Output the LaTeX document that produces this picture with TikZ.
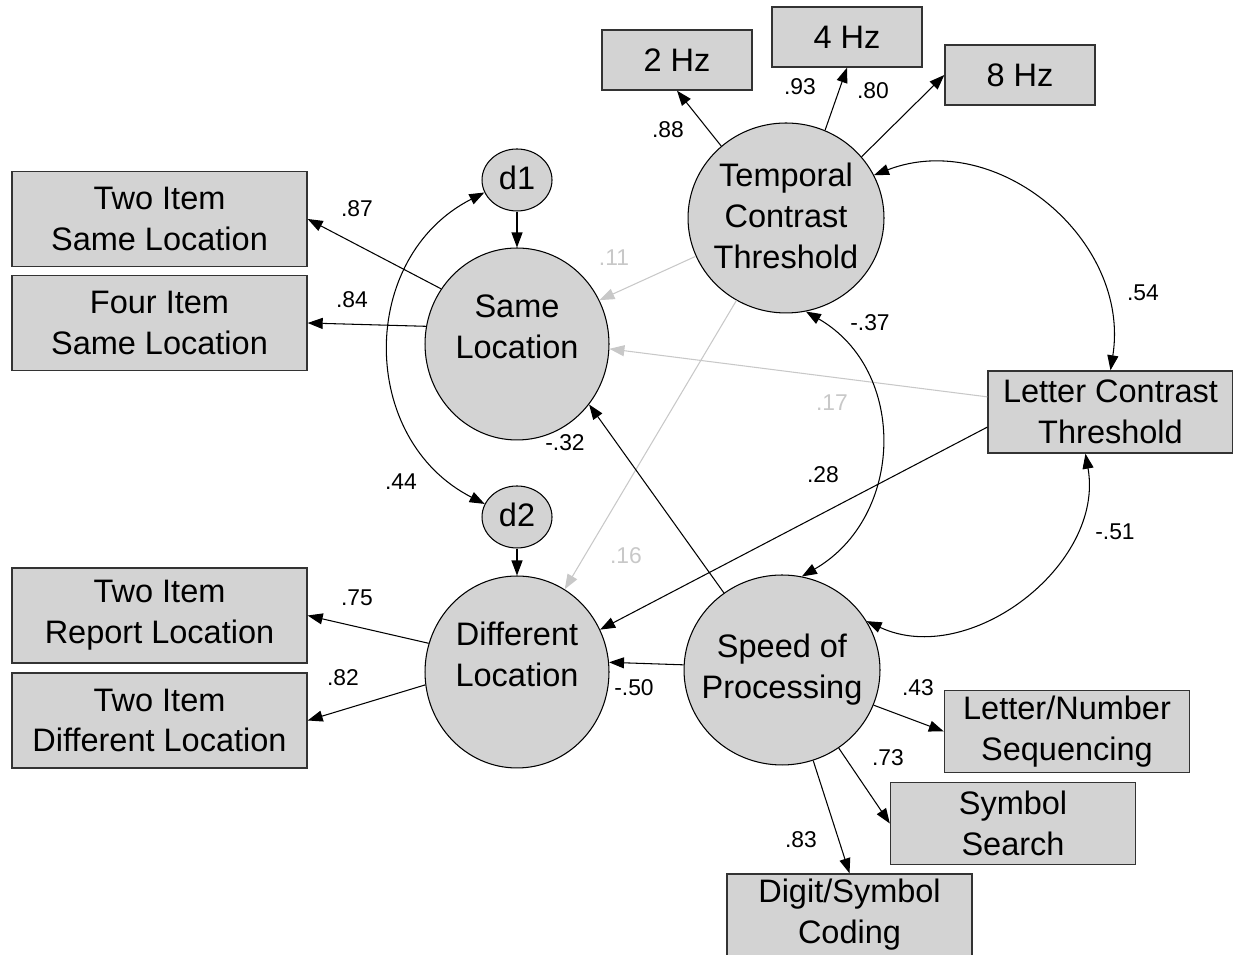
\documentclass[tikz,border=0pt]{standalone}
\usepackage{fontspec}
\setmainfont{Liberation Sans}
\usetikzlibrary{shapes.geometric,arrows.meta}
\definecolor{boxgrey}{RGB}{211,211,211}
\definecolor{faint}{RGB}{200,200,200}
\newcommand{\ltext}[2]{\raisebox{#1}[0pt][0pt]{\makebox[0pt]{\begin{tabular}{@{}c@{}}#2\end{tabular}}}}

\begin{document}
\begin{tikzpicture}[
      x=0.02cm,
      y=0.02cm,
      line width=0.6pt,
      >={Triangle[length=0.3cm,width=0.22cm]},
      obs/.style={
        rectangle,
        draw=black!80,
        fill=boxgrey,
        line width=0.8pt,
        align=center,
        inner sep=0pt,
        font=\fontsize{18.5}{23.3}\selectfont
      },
      obsl/.style={obs,minimum width=5.9cm,minimum height=1.9cm},
      obsm/.style={obs,minimum width=4.9cm,minimum height=1.64cm},
      obss/.style={obs,minimum width=3cm,minimum height=1.2cm},
      lat/.style={
        ellipse,
        draw=black,
        fill=boxgrey,
        inner sep=0pt,
        minimum width=3.92cm,
        minimum height=3.8cm,
        font=\fontsize{18.5}{23.3}\selectfont
      },
      latd/.style={lat,minimum width=3.68cm,minimum height=3.84cm},
      resid/.style={lat,minimum width=1.4cm,minimum height=1.24cm},
      coef/.style={inner sep=0pt,font=\fontsize{13}{15}\selectfont},
      fcoef/.style={coef,text=faint},
      arr/.style={->},
      farr/.style={->,draw=faint},
      cov/.style={<->}
    ]
      \useasboundingbox (0,0) rectangle (1233,955);

      \node (m1) at (159.5,736) [obsl]{Two Item\\Same Location};
      \node (m2) at (159.5,632) [obsl]{Four Item\\Same Location};
      \node (m3) at (159.5,339.5) [obsl]{Two Item\\Report Location};
      \node (m4) at (159.5,234.5) [obsl]{Two Item\\Different Location};

      \node (m5) at (677,895) [obss]{2 Hz};
      \node (m6) at (847,918) [obss]{4 Hz};
      \node (m7) at (1020,880) [obss]{8 Hz};

      \node (lct) at (1110.5,543) [obsm]{Letter Contrast\\Threshold};
      \node (m8) at (1067,223.5) [obsm]{Letter/Number\\Sequencing};
      \node (m9) at (1013,131.5) [obsm]{Symbol\\Search};
      \node (m10) at (849.5,40) [obsm]{Digit/Symbol\\Coding};

      \node (d1) at (517,775) [resid]{\ltext{-0.17cm}{d1}};
      \node (d2) at (517,438) [resid]{\ltext{-0.17cm}{d2}};
      \node (sl) at (517,611) [latd]{\ltext{0.13cm}{Same\\Location}};
      \node (dl) at (517,283) [latd]{\ltext{0.13cm}{Different\\Location}};
      \node (tct) at (786,737) [lat]{\ltext{-0.18cm}{Temporal\\Contrast\\Threshold}};
      \node (sop) at (782,285) [lat]{\ltext{-0.15cm}{Speed of\\Processing}};

      \node (c87) at (357,746) [coef]{.87};
      \node (c84) at (352,655) [coef]{.84};
      \node (c11) at (614,697) [fcoef]{.11};
      \node (c88) at (668,825) [coef]{.88};
      \node (c93) at (800,868) [coef]{.93};
      \node (c80) at (873,864) [coef]{.80};
      \node (c54) at (1143,662) [coef]{.54};
      \node (c37) at (870,632) [coef]{-.37};
      \node (c17) at (832,552) [fcoef]{.17};
      \node (c32) at (565,512) [coef]{-.32};
      \node (c44) at (401,473) [coef]{.44};
      \node (c28) at (823,480) [coef]{.28};
      \node (c16) at (626,399) [fcoef]{.16};
      \node (c51) at (1115,423) [coef]{-.51};
      \node (c75) at (357,357) [coef]{.75};
      \node (c82) at (343,277) [coef]{.82};
      \node (c50) at (634,267) [coef]{-.50};
      \node (c43) at (918,267) [coef]{.43};
      \node (c73) at (888,197) [coef]{.73};
      \node (c83) at (801,115) [coef]{.83};

      \draw[arr] (sl.144) -- (m1.east);
      \draw[arr] (sl.169) -- (m2.east);
      \draw[arr] (dl.162) -- (m3.east);
      \draw[arr] (dl.188) -- (m4.east);

      \draw[arr] (d1) -- (sl);
      \draw[arr] (d2) -- (dl);

      \draw[arr] (tct.132) -- (m5.south);
      \draw[arr] (tct.66) -- (m6.south);
      \draw[arr] (tct.39) -- (m7.west);

      \draw[farr] (tct.203) -- (sl.28);
      \draw[farr] (lct.173) -- (sl.-3);
      \draw[farr] (tct.239) -- (dl.60);

      \draw[arr] (lct.187) -- (dl.27);
      \draw[arr] (sop.127) -- (sl.-40);
      \draw[arr] (sop.177) -- (dl.6);

      \draw[arr] (sop.-21) -- (m8.west);
      \draw[arr] (sop.-54) -- (m9.west);
      \draw[arr] (sop.-71) -- (m10.north);

      \draw[cov] (d1.201) to[out=207,in=153,looseness=1.17] (d2.158);
      \draw[cov] (tct.26) to[out=21,in=81,looseness=1.1] (lct.north);
      \draw[cov] (tct.-78) to[out=-30,in=30,looseness=1.14] (sop.78);
      \draw[cov] (sop.30) to[out=-25,in=-80,looseness=1.05] (lct.239);

    \end{tikzpicture}
\end{document}
